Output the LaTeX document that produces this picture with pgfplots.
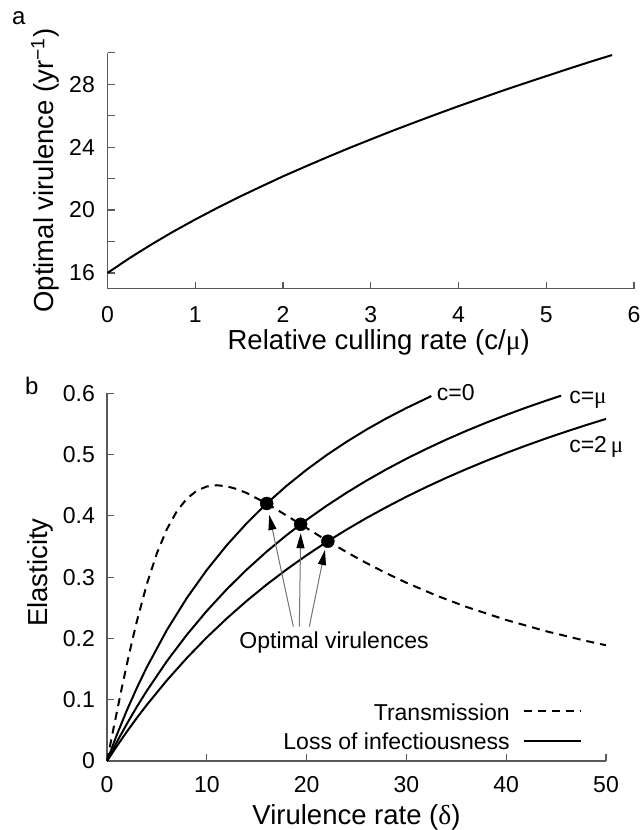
\documentclass[border=0pt]{standalone}
\usepackage{fontspec}
\setmainfont{Liberation Sans}
\newfontfamily\symf{Liberation Serif}
\usepackage{pgfplots}
\pgfplotsset{compat=1.18}
\usetikzlibrary{arrows.meta}
\newcommand\fs{\fontsize{23bp}{27bp}\selectfont}
\newcommand\fl{\fontsize{27.5bp}{32bp}\selectfont}
\pgfplotsset{
 myax/.style={
  scale only axis,
  axis x line=bottom, axis y line=left,
  axis line style={-, black!65, line width=1.1bp},
  tick align=inside,
  major tick length=7bp, minor tick length=7bp,
  tick style={black!65, line width=1.1bp},
  tick label style={font=\fs, inner sep=0pt},
  /pgf/number format/assume math mode=true,
  label style={font=\fl},
  clip=false,
 }
}
\begin{document}
\begin{tikzpicture}
\useasboundingbox (0,0) rectangle (644bp,830bp);
\node[anchor=base west, inner sep=0pt, font=\fontsize{24bp}{28bp}\selectfont] at (12bp,805bp) {a};
\node[anchor=base west, inner sep=0pt, font=\fontsize{24bp}{28bp}\selectfont] at (25bp,435bp) {b};
\begin{axis}[myax, at={(107.5bp,541.3bp)}, anchor=south west, width=526.5bp, height=236bp,
 xmin=0, xmax=6, ymin=15, ymax=30,
 xtick={0,1,2,3,4,5,6}, ytick={16,20,24,28}, minor ytick={18,22,26,30},
 xticklabel style={yshift=-18bp}, yticklabel style={xshift=-12.5bp},
 xlabel={Relative culling rate (c/{\symf μ})},
 ylabel={Optimal virulence (yr\textsuperscript{−1})},
 xlabel style={at={(axis description cs:0.515,-0.2597)}, anchor=base},
 ylabel style={at={(axis description cs:-0.1026,0.5)}, anchor=base},
]
\addplot[black, line width=2bp] coordinates {
(0,16.00)(0.25,16.94)(0.5,17.81)(0.75,18.63)(1,19.40)(1.25,20.13)(1.5,20.83)(1.75,21.49)
(2,22.14)(2.25,22.75)(2.5,23.35)(2.75,23.93)(3,24.49)(3.25,25.04)(3.5,25.57)(3.75,26.09)
(4,26.60)(4.25,27.09)(4.5,27.58)(4.75,28.05)(5,28.51)(5.25,28.97)(5.5,29.42)(5.75,29.85)};
\end{axis}
\begin{axis}[myax, at={(107bp,69bp)}, anchor=south west, width=499bp, height=367.7bp,
 xmin=0, xmax=50, ymin=0, ymax=0.6,
 xtick={0,10,20,30,40,50}, ytick={0,0.1,0.2,0.3,0.4,0.5,0.6},
 xticklabel style={yshift=-15.7bp}, yticklabel style={xshift=-12bp},
 xlabel={Virulence rate ({\symf δ})}, ylabel={Elasticity},
 xlabel style={at={(axis description cs:0.5,-0.1732)}, anchor=base},
 ylabel style={at={(axis description cs:-0.1192,0.5126)}, anchor=base},
 legend style={draw=none, fill=none, at={(axis cs:47.57,0.0156)}, anchor=south east,
   inner sep=0pt, outer sep=0pt, row sep=11bp, column sep=13bp, nodes={inner sep=0pt, font=\fs}},
 legend cell align=right, legend plot pos=right,
 legend image code/.code={\draw[#1] (0bp,1.7bp) -- (57bp,1.7bp);},
]
\addplot[black, line width=2bp, dash pattern=on 8bp off 6bp] coordinates {
(0,0)(0.25,0.02044)(0.5,0.04082)(1,0.08115)(1.5,0.12049)(2,0.15840)(2.5,0.19450)(3,0.22846)
(4,0.28905)(5,0.33904)(6,0.37834)(7,0.40765)(8,0.42811)(9,0.44109)(10,0.44796)(11,0.45)
(12,0.44830)(13,0.44379)(14,0.43722)(16,0.42016)(18,0.40045)(20,0.38004)(22,0.36)
(24,0.34089)(26,0.32296)(28,0.30630)(30,0.29089)(33,0.27)(36,0.25152)(40,0.23010)
(44,0.21176)(48,0.19596)(50,0.18886)};
\addlegendentry{Transmission}
\addplot[black, line width=2bp] coordinates {
(0,0)(1,0.0433)(2,0.0831)(3,0.1196)(4,0.1534)(6,0.2137)(8,0.2660)(10,0.3117)(12,0.3521)
(14,0.3880)(16,0.4202)(18,0.4491)(20,0.4753)(22,0.4991)(24,0.5208)(26,0.5408)(28,0.5591)
(30,0.5760)(32.5,0.5955)};
\addlegendentry{Loss of infectiousness}
\addplot[black, line width=2bp, forget plot] coordinates {
(0,0)(1,0.0314)(2,0.0609)(3,0.0887)(4,0.1148)(6,0.1629)(8,0.2060)(10,0.2449)(12,0.2802)
(14,0.3123)(16,0.3417)(18,0.3686)(20,0.3935)(22,0.4164)(24,0.4377)(26,0.4575)(28,0.4760)
(30,0.4932)(32,0.5093)(34,0.5245)(36,0.5387)(38,0.5521)(40,0.5647)(42,0.5767)(44,0.5880)
(45.5,0.5961)};
\addplot[black, line width=2bp, forget plot] coordinates {
(0,0)(1,0.0246)(2,0.0481)(3,0.0705)(4,0.0918)(6,0.1316)(8,0.1681)(10,0.2017)(12,0.2326)
(14,0.2613)(16,0.2879)(18,0.3126)(20,0.3357)(22,0.3573)(24,0.3775)(26,0.3965)(28,0.4143)
(30,0.4312)(32,0.4471)(34,0.4621)(36,0.4763)(38,0.4898)(40,0.5026)(42,0.5148)(44,0.5264)
(46,0.5375)(48,0.5481)(50,0.5582)};
\addplot[only marks, mark=*, mark size=6.5bp, black, forget plot] coordinates {
(16,0.4202)(19.4,0.3862)(22.13,0.3586)};
\draw[black!55, line width=1bp, -{Triangle[length=15bp,width=8bp,color=black]}] (axis cs:18.67,0.2192) -- (axis cs:16.26,0.4014);
\draw[black!55, line width=1bp, -{Triangle[length=15bp,width=8bp,color=black]}] (axis cs:19.27,0.2192) -- (axis cs:19.41,0.3716);
\draw[black!55, line width=1bp, -{Triangle[length=15bp,width=8bp,color=black]}] (axis cs:20.27,0.2192) -- (axis cs:21.84,0.3443);
\node[anchor=base, inner sep=0pt, font=\fs] at (axis cs:22.75,0.1828) {Optimal virulences};
\node[anchor=base west, inner sep=0pt, font=\fs] at (axis cs:33.03,0.589) {c=0};
\node[anchor=base west, inner sep=0pt, font=\fs] at (axis cs:46.3,0.584) {c={\symf μ}};
\node[anchor=base west, inner sep=0pt, font=\fs] at (axis cs:46.3,0.504) {c=2\,{\symf μ}};
\end{axis}
\end{tikzpicture}
\end{document}
